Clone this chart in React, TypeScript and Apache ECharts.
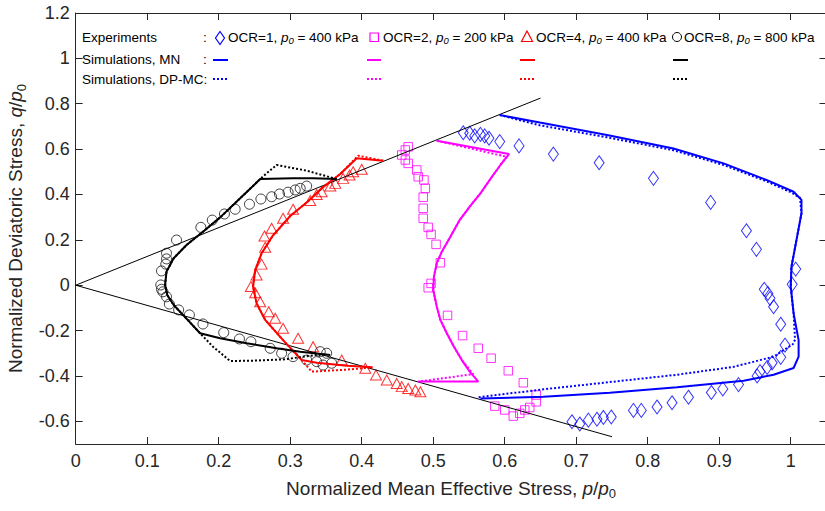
import React, { useEffect, useRef } from 'react';
import * as echarts from 'echarts';

const FONT = '"Liberation Sans", Arial, Helvetica, sans-serif';
const AX = '#262626';
const BLUE = '#0000ff';
const MAG = '#ff00ff';
const RED = '#ff0000';
const BLK = '#000000';

const xTicks = [0, 0.1, 0.2, 0.3, 0.4, 0.5, 0.6, 0.7, 0.8, 0.9, 1.0];
const yTicks = [-0.6, -0.4, -0.2, 0, 0.2, 0.4, 0.6, 0.8, 1.0, 1.2];

// Critical state reference lines
const refUpper = [[0, 0], [0.65, 0.825]];
const refLower = [[0, 0], [0.75, -0.668]];

// Experiments
const expOcr1 = [
  [0.542, 0.672], [0.551, 0.67], [0.558, 0.658], [0.566, 0.665], [0.572, 0.658], [0.578, 0.648],
  [0.593, 0.633], [0.62, 0.614], [0.668, 0.578], [0.732, 0.54], [0.808, 0.471], [0.888, 0.365],
  [0.938, 0.24], [0.952, 0.158], [1.007, 0.071], [1.002, 0.004], [0.963, -0.018], [0.968, -0.036],
  [0.971, -0.058], [0.976, -0.095], [0.986, -0.172], [0.992, -0.264], [0.986, -0.318], [0.974, -0.342],
  [0.967, -0.362], [0.957, -0.381], [0.953, -0.4], [0.927, -0.438], [0.905, -0.457], [0.889, -0.473],
  [0.857, -0.494], [0.834, -0.518], [0.813, -0.537], [0.791, -0.552], [0.78, -0.552], [0.749, -0.581],
  [0.738, -0.583], [0.729, -0.591], [0.717, -0.595], [0.705, -0.612], [0.694, -0.602],
];
const expOcr2 = [
  [0.465, 0.61], [0.461, 0.596], [0.456, 0.574], [0.461, 0.552], [0.465, 0.537], [0.477, 0.508],
  [0.479, 0.478], [0.487, 0.464], [0.489, 0.427], [0.486, 0.388], [0.486, 0.339], [0.486, 0.295],
  [0.493, 0.255], [0.497, 0.224], [0.504, 0.18], [0.51, 0.099], [0.497, 0.008], [0.493, -0.011],
  [0.52, -0.133], [0.541, -0.222], [0.563, -0.278], [0.581, -0.322], [0.605, -0.377], [0.626, -0.43],
  [0.644, -0.484], [0.644, -0.514], [0.635, -0.539], [0.628, -0.55], [0.621, -0.565], [0.612, -0.577],
  [0.6, -0.55], [0.586, -0.533],
];
const expOcr4 = [
  [0.4, 0.511], [0.388, 0.5], [0.383, 0.486], [0.374, 0.471], [0.363, 0.449], [0.356, 0.437],
  [0.344, 0.412], [0.337, 0.4], [0.328, 0.373], [0.304, 0.335], [0.29, 0.295], [0.274, 0.251],
  [0.264, 0.217], [0.265, 0.167], [0.26, 0.093], [0.253, 0.045], [0.245, -0.006], [0.251, -0.033],
  [0.258, -0.073], [0.27, -0.117], [0.279, -0.146], [0.29, -0.19], [0.311, -0.234], [0.332, -0.271],
  [0.372, -0.33], [0.405, -0.366], [0.42, -0.396], [0.435, -0.418], [0.449, -0.433], [0.456, -0.447],
  [0.465, -0.455], [0.475, -0.462], [0.482, -0.47],
];
const expOcr8 = [
  [0.323, 0.437], [0.314, 0.427], [0.307, 0.42], [0.297, 0.41], [0.285, 0.402], [0.274, 0.39],
  [0.259, 0.38], [0.243, 0.357], [0.223, 0.335], [0.208, 0.314], [0.191, 0.287], [0.175, 0.255],
  [0.141, 0.199], [0.127, 0.141], [0.127, 0.116], [0.126, 0.093], [0.12, 0.063], [0.119, 0.001],
  [0.12, -0.018], [0.122, -0.029], [0.127, -0.051], [0.131, -0.083], [0.144, -0.109], [0.159, -0.131],
  [0.178, -0.171], [0.207, -0.209], [0.229, -0.237], [0.245, -0.249], [0.272, -0.278], [0.288, -0.3],
  [0.304, -0.315], [0.323, -0.33], [0.337, -0.337], [0.342, -0.293], [0.351, -0.3], [0.358, -0.344],
  [0.346, -0.352],
];

// Simulations, MN
const mnOcr1 = [
  [0.593, 0.75], [0.649, 0.717], [0.743, 0.662], [0.836, 0.603], [0.906, 0.537], [0.966, 0.464],
  [1.004, 0.412], [1.015, 0.376], [1.015, 0.317], [1.008, 0.199], [1.001, 0.082], [1.0, -0.007],
  [1.004, -0.124], [1.011, -0.242], [1.011, -0.315], [1.004, -0.365], [0.976, -0.395], [0.934, -0.421],
  [0.841, -0.45], [0.747, -0.474], [0.654, -0.492], [0.566, -0.499],
];
const mnOcr2 = [
  [0.505, 0.637], [0.606, 0.578], [0.594, 0.53], [0.579, 0.464], [0.566, 0.405], [0.551, 0.346],
  [0.537, 0.287], [0.524, 0.214], [0.512, 0.148], [0.505, 0.097], [0.501, 0.038], [0.5, -0.021],
  [0.505, -0.095], [0.51, -0.153], [0.519, -0.212], [0.529, -0.271], [0.54, -0.33], [0.551, -0.381],
  [0.563, -0.425], [0.479, -0.425],
];
const mnOcr4 = [
  [0.43, 0.549], [0.393, 0.56], [0.37, 0.49], [0.345, 0.43], [0.325, 0.37], [0.3, 0.305],
  [0.276, 0.22], [0.26, 0.141], [0.251, 0.067], [0.248, -0.006], [0.253, -0.08], [0.265, -0.153],
  [0.29, -0.242], [0.316, -0.33], [0.337, -0.342], [0.38, -0.355], [0.415, -0.362],
];
const mnOcr8 = [
  [0.365, 0.468], [0.332, 0.471], [0.304, 0.471], [0.258, 0.468], [0.23, 0.383], [0.202, 0.299],
  [0.178, 0.236], [0.155, 0.177], [0.137, 0.119], [0.127, 0.06], [0.125, 0.001], [0.128, -0.043],
  [0.137, -0.087], [0.15, -0.131], [0.174, -0.212], [0.202, -0.234], [0.239, -0.256], [0.281, -0.278],
  [0.314, -0.293], [0.356, -0.308],
];

// Simulations, DP-MC
const dpOcr1 = [
  [0.593, 0.75], [0.649, 0.705], [0.743, 0.652], [0.836, 0.595], [0.906, 0.53], [0.966, 0.458],
  [1.0, 0.41], [1.013, 0.385], [1.015, 0.317], [1.008, 0.199], [1.001, 0.082], [1.0, -0.007],
  [1.004, -0.124], [1.006, -0.24], [1.003, -0.26], [0.976, -0.315], [0.92, -0.36], [0.84, -0.395],
  [0.747, -0.427], [0.654, -0.459], [0.563, -0.494],
];
const dpOcr2 = [
  [0.505, 0.637], [0.603, 0.566], [0.594, 0.53], [0.579, 0.464], [0.566, 0.405], [0.551, 0.346],
  [0.537, 0.287], [0.524, 0.214], [0.512, 0.148], [0.505, 0.097], [0.501, 0.038], [0.5, -0.021],
  [0.505, -0.095], [0.51, -0.153], [0.519, -0.212], [0.529, -0.271], [0.54, -0.33], [0.556, -0.392],
  [0.479, -0.425],
];
const dpOcr4 = [
  [0.43, 0.549], [0.395, 0.571], [0.37, 0.49], [0.345, 0.43], [0.325, 0.37], [0.3, 0.305],
  [0.276, 0.22], [0.26, 0.141], [0.251, 0.067], [0.248, -0.006], [0.253, -0.08], [0.265, -0.153],
  [0.29, -0.242], [0.316, -0.33], [0.33, -0.381], [0.38, -0.372], [0.415, -0.362],
];
const dpOcr8 = [
  [0.365, 0.468], [0.323, 0.505], [0.281, 0.53], [0.262, 0.48], [0.23, 0.383], [0.202, 0.299],
  [0.178, 0.236], [0.155, 0.177], [0.137, 0.119], [0.127, 0.06], [0.125, 0.001], [0.128, -0.043],
  [0.137, -0.087], [0.15, -0.131], [0.174, -0.212], [0.192, -0.271], [0.216, -0.334], [0.244, -0.333],
  [0.29, -0.327], [0.337, -0.308], [0.35, -0.305],
];

const legendRows = ['Experiments', 'Simulations, MN', 'Simulations, DP-MC:'];
const legendLabels = [
  'OCR=1, {i|p}{s|0} = 400 kPa',
  'OCR=2, {i|p}{s|0} = 200 kPa',
  'OCR=4, {i|p}{s|0} = 400 kPa',
  'OCR=8, {i|p}{s|0} = 800 kPa',
];

const fmt = (v: number) => String(Math.round(v * 10) / 10);

function lineSeries(data: number[][], color: string, dotted: boolean, width = 2) {
  return {
    type: 'line',
    data,
    symbol: 'none',
    showSymbol: false,
    silent: true,
    z: 3,
    lineStyle: { color, width, type: dotted ? [2, 2] : 'solid', cap: 'butt' },
  };
}

function scatterSeries(data: number[][], color: string, symbol: string, size: any) {
  return {
    type: 'scatter',
    data,
    symbol,
    symbolSize: size,
    silent: true,
    z: 2,
    itemStyle: { color: 'rgba(0,0,0,0)', borderColor: color, borderWidth: 1 },
  };
}

export default function App() {
  const ref = useRef<HTMLDivElement>(null);
  useEffect(() => {
    document.body.style.margin = '0';
    const chart = echarts.init(ref.current!, null, { renderer: 'svg' });

    const titleRich = {
      n: { fontSize: 19, fontFamily: FONT, color: AX, lineHeight: 24 },
      i: { fontSize: 19, fontFamily: FONT, color: AX, fontStyle: 'italic', lineHeight: 24 },
      s: { fontSize: 13, fontFamily: FONT, color: AX, lineHeight: 13, verticalAlign: 'bottom' },
    };
    const legRich = {
      i: { fontSize: 13.5, fontFamily: FONT, fill: '#000', fontStyle: 'italic', lineHeight: 16 },
      s: { fontSize: 9.5, fontFamily: FONT, fill: '#000', fontStyle: 'italic', lineHeight: 9, verticalAlign: 'bottom' },
    };

    const legendText = (text: string, x: number, y: number, rich = false) => ({
      type: 'text',
      x,
      y,
      silent: true,
      z: 100,
      style: {
        text,
        fontSize: 13.5,
        fontFamily: FONT,
        fill: '#000',
        verticalAlign: 'middle',
        align: 'left',
        lineHeight: 16,
        ...(rich ? { rich: legRich } : {}),
      },
    });

    const rowY = [37, 59, 79];
    const lineY = [0, 60, 79];
    const colLine = [[213, 228], [367, 381], [520, 535], [673, 688]];
    const colText = [228, 383, 536, 684];
    const colors = [BLUE, MAG, RED, BLK];

    const graphics: any[] = [];
    legendRows.forEach((t, k) => graphics.push(legendText(t, 82, rowY[k])));
    graphics.push(legendText(':', 203, rowY[0]));
    graphics.push(legendText(':', 203, rowY[1]));
    legendLabels.forEach((t, k) => graphics.push(legendText(t, colText[k], rowY[0], true)));
    // legend glyphs
    graphics.push({ type: 'polygon', silent: true, z: 100, shape: { points: [[220, 31.5], [224.5, 38], [220, 44.5], [215.5, 38]] }, style: { fill: 'none', stroke: BLUE, lineWidth: 1.2 } });
    graphics.push({ type: 'rect', silent: true, z: 100, shape: { x: 370, y: 33, width: 8.5, height: 8.5 }, style: { fill: 'none', stroke: MAG, lineWidth: 1.2 } });
    graphics.push({ type: 'polygon', silent: true, z: 100, shape: { points: [[527, 31], [532.5, 41.5], [521.5, 41.5]] }, style: { fill: 'none', stroke: RED, lineWidth: 1.2 } });
    graphics.push({ type: 'circle', silent: true, z: 100, shape: { cx: 677, cy: 37, r: 4.5 }, style: { fill: 'none', stroke: BLK, lineWidth: 1 } });
    colLine.forEach((c, k) => {
      graphics.push({ type: 'line', silent: true, z: 100, shape: { x1: c[0], y1: lineY[1], x2: c[1], y2: lineY[1] }, style: { stroke: colors[k], lineWidth: 2 } });
      graphics.push({ type: 'line', silent: true, z: 100, shape: { x1: c[0], y1: lineY[2], x2: c[1], y2: lineY[2] }, style: { stroke: colors[k], lineWidth: 2, lineDash: [2, 2] } });
    });

    const baseAxisLine = { show: true, onZero: false, lineStyle: { color: AX, width: 1 } };
    const tickStyle = { color: AX, width: 1 };

    const option: any = {
      animation: false,
      backgroundColor: '#ffffff',
      grid: { left: 75.7, top: 13, width: 750.8, bottom: 67, containLabel: false, outerBoundsMode: 'none' },
      xAxis: [
        {
          type: 'value', min: 0, max: 1.05, position: 'bottom',
          axisLine: baseAxisLine,
          axisTick: { show: true, inside: true, length: 7, customValues: xTicks, lineStyle: tickStyle },
          axisLabel: { customValues: xTicks, formatter: fmt, fontSize: 18, fontFamily: FONT, color: AX, margin: 8 },
          splitLine: { show: false },
          name: '{n|Normalized Mean Effective Stress, }{i|p}{n|/}{i|p}{s|0}',
          nameLocation: 'middle', nameGap: 32,
          nameTextStyle: { fontSize: 19, fontFamily: FONT, color: AX, rich: titleRich },
        },
        {
          type: 'value', min: 0, max: 1.05, position: 'top',
          axisLine: baseAxisLine,
          axisTick: { show: true, inside: true, length: 7, customValues: xTicks, lineStyle: tickStyle },
          axisLabel: { show: false },
          splitLine: { show: false },
        },
      ],
      yAxis: [
        {
          type: 'value', min: -0.7, max: 1.2, position: 'left',
          axisLine: baseAxisLine,
          axisTick: { show: true, inside: true, length: 7, customValues: yTicks, lineStyle: tickStyle },
          axisLabel: { customValues: yTicks, formatter: fmt, fontSize: 18, fontFamily: FONT, color: AX, margin: 6 },
          splitLine: { show: false },
          name: '{n|Normalized Deviatoric Stress, }{i|q}{n|/}{i|p}{s|0}',
          nameLocation: 'middle', nameGap: 46, nameRotate: 90,
          nameTextStyle: { fontSize: 19, fontFamily: FONT, color: AX, rich: titleRich },
        },
        {
          type: 'value', min: -0.7, max: 1.2, position: 'right',
          axisLine: baseAxisLine,
          axisTick: { show: true, inside: true, length: 7, customValues: yTicks, lineStyle: tickStyle },
          axisLabel: { show: false },
          splitLine: { show: false },
        },
      ],
      series: [
        lineSeries(refUpper, BLK, false, 1),
        lineSeries(refLower, BLK, false, 1),
        scatterSeries(expOcr1, BLUE, 'diamond', [10, 14]),
        scatterSeries(expOcr2, MAG, 'rect', 8.5),
        scatterSeries(expOcr4, RED, 'triangle', [11, 10]),
        scatterSeries(expOcr8, '#111111', 'circle', 10),
        lineSeries(mnOcr1, BLUE, false),
        lineSeries(dpOcr1, BLUE, true),
        lineSeries(mnOcr2, MAG, false),
        lineSeries(dpOcr2, MAG, true),
        lineSeries(mnOcr4, RED, false),
        lineSeries(dpOcr4, RED, true),
        lineSeries(mnOcr8, BLK, false),
        lineSeries(dpOcr8, BLK, true),
      ],
      graphic: graphics,
    };
    chart.setOption(option);
    return () => chart.dispose();
  }, []);
  return <div ref={ref} style={{ width: 825, height: 511 }} />;
}
